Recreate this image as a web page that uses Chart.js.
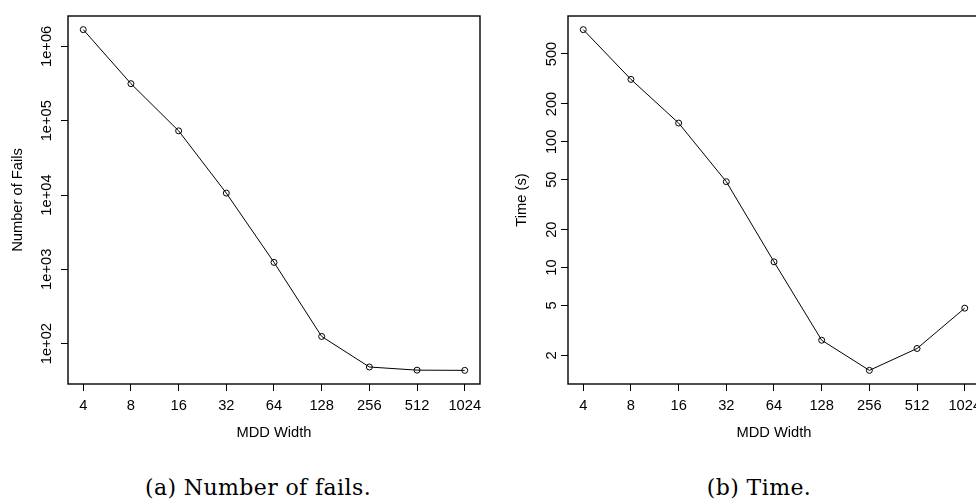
<!DOCTYPE html>
<html>
<head>
<meta charset="utf-8">
<script src="https://cdn.jsdelivr.net/npm/chart.js@4"></script>
<style>
  html, body { margin: 0; padding: 0; background: #fff; }
  #page { position: relative; width: 976px; height: 501px; overflow: hidden; }
  #failsChart { position: absolute; left: 0; top: 0; }
  #timeChart { position: absolute; left: 488px; top: 0; }
  .caption {
    position: absolute; width: 400px; text-align: center;
    font-family: "DejaVu Serif", "Liberation Serif", serif; font-size: 22px;
    letter-spacing: 0.4px; color: #000; top: 474px; line-height: 28px;
  }
</style>
</head>
<body>
<div id="page">
  <canvas id="failsChart" width="488" height="460"></canvas>
  <canvas id="timeChart" width="500" height="460"></canvas>
  <div class="caption" style="left:58px">(a) Number of fails.</div>
  <div class="caption" style="left:559px">(b) Time.</div>
</div>
<script>
// MDD widths on the x axis
let widths = [4, 8, 16, 32, 64, 128, 256, 512, 1024];
// number of fails per width
let fails = [1680000, 315000, 73000, 10600, 1240, 125, 48.5, 44, 43.7];
// run time in seconds per width
let times = [781, 314, 141, 48.2, 11.1, 2.64, 1.52, 2.27, 4.75];

let failTicks = [100, 1000, 10000, 100000, 1000000];
let timeTicks = [2, 5, 10, 20, 50, 100, 200, 500];

let fontName = "'Liberation Sans', Arial, sans-serif";

// R style range: data range in log space, widened 4% each side
let logRange = function (vals) {
    let lo = Math.log10(Math.min(...vals));
    let hi = Math.log10(Math.max(...vals));
    let pad = (hi - lo) * 0.04;
    return [Math.pow(10, lo - pad), Math.pow(10, hi + pad)];
};

let boxPlugin = {
    id: 'box',
    afterDatasetsDraw: function (chart) {
        let a = chart.chartArea;
        let c = chart.ctx;
        c.save();
        c.strokeStyle = '#000';
        c.lineWidth = 1.4;
        c.strokeRect(a.left, a.top, a.right - a.left, a.bottom - a.top);
        c.restore();
    }
};

let makeChart = function (canvas, values, ticks, yTitle, yLabel, opt) {
    let xr = logRange(widths);
    let yr = logRange(values);
    return new Chart(canvas.getContext('2d'), {
        type: 'line',
        data: {
            datasets: [{
                data: widths.map((w, i) => ({x: w, y: values[i]})),
                borderColor: '#000',
                borderWidth: 1,
                pointRadius: 3,
                pointBorderWidth: 1,
                pointBorderColor: '#000',
                pointBackgroundColor: 'rgba(0,0,0,0)',
                fill: false,
                tension: 0
            }]
        },
        options: {
            responsive: false,
            animation: false,
            devicePixelRatio: 1,
            layout: {padding: {left: 0, top: 16, right: opt.padRight, bottom: 0}},
            plugins: {legend: {display: false}, tooltip: {enabled: false}},
            scales: {
                x: {
                    type: 'logarithmic',
                    min: xr[0],
                    max: xr[1],
                    afterBuildTicks: s => { s.ticks = widths.map(v => ({value: v})); },
                    afterFit: s => { s.height = 76; },
                    grid: {display: true, drawOnChartArea: false, color: '#000', tickLength: 7, lineWidth: 1},
                    border: {display: false},
                    ticks: {
                        color: '#000', padding: 6, maxRotation: 0, autoSkip: false,
                        font: {family: fontName, size: 14.7},
                        callback: v => String(v)
                    },
                    title: {display: true, text: 'MDD Width', color: '#000', padding: {top: 0, bottom: 18.4},
                        font: {family: fontName, size: 14.7}}
                },
                y: {
                    type: 'logarithmic',
                    min: yr[0],
                    max: yr[1],
                    afterBuildTicks: s => { s.ticks = ticks.map(v => ({value: v})); },
                    afterFit: s => { s.width = opt.yWidth; },
                    grid: {display: true, drawOnChartArea: false, color: '#000', tickLength: 7, lineWidth: 1},
                    border: {display: false},
                    ticks: {
                        color: '#000', padding: opt.tickPad, minRotation: 90, maxRotation: 90,
                        crossAlign: 'center', autoSkip: false,
                        font: {family: fontName, size: 14.7},
                        callback: yLabel
                    },
                    title: {display: true, text: yTitle, color: '#000', padding: {top: opt.titlePad, bottom: 0},
                        font: {family: fontName, size: 14.7}}
                }
            }
        },
        plugins: [boxPlugin]
    });
};

window.failsLine = makeChart(document.getElementById('failsChart'), fails, failTicks,
    'Number of Fails', v => '1e+' + String(Math.round(Math.log10(v))).padStart(2, '0'),
    {padRight: 8, yWidth: 68, tickPad: -6.1, titlePad: 9.2});

window.timeLine = makeChart(document.getElementById('timeChart'), times, timeTicks,
    'Time (s)', v => String(v),
    {padRight: 8, yWidth: 80, tickPad: -3, titlePad: 24.9});
</script>
</body>
</html>
